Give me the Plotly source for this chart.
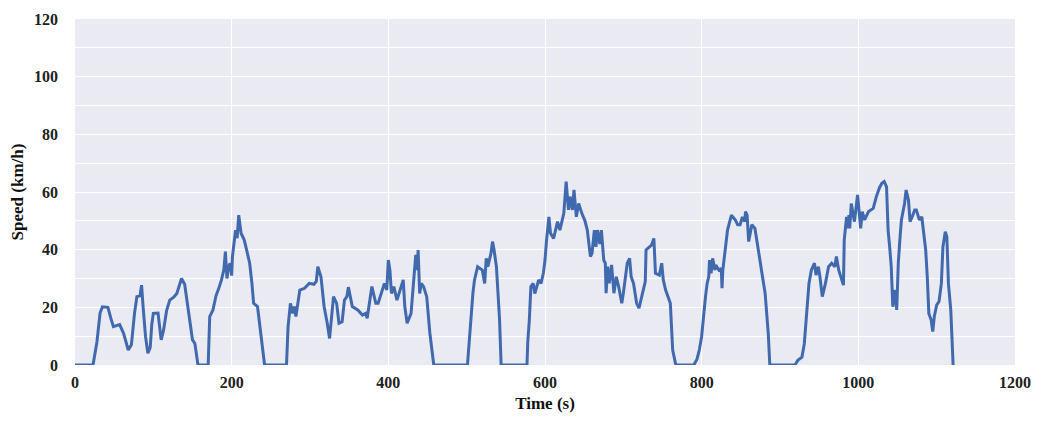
import plotly.graph_objects as go

time_s = [0, 23, 28, 32, 35, 42, 46, 49, 57, 62, 68, 72, 76, 79, 83, 85, 87, 90, 93, 96, 98, 100, 106, 110, 113, 117, 121, 126, 130, 136, 140, 144, 148, 150, 153, 157,
          170, 171, 172, 176, 180, 184, 187, 190, 192, 194, 196, 198, 200, 201, 203, 205, 207, 209, 212, 216, 219, 223, 226, 228, 233, 235, 237, 240, 242,
          270, 271, 272, 275, 278, 280, 282, 287, 293, 299, 305, 308, 310, 314, 318, 322, 325, 328, 330, 334, 337, 341, 344, 347, 349, 354, 361, 367, 371, 373,
          379, 384, 387, 395, 398, 400, 402, 404, 407, 411, 414, 419, 421, 424, 429, 432, 435, 437, 438, 440, 442, 445, 449, 453, 456, 458,
          501, 503, 505, 508, 510, 514, 520, 523, 525, 527, 531, 533, 535, 538, 542, 544,
          577, 578, 580, 582, 585, 587, 592, 595, 598, 600, 602, 605, 607, 611, 616, 619, 624, 627, 630, 632, 635, 637, 640, 643, 647, 651, 654, 658, 660,
          663, 665, 667, 670, 672, 675, 677, 678, 680, 682, 685, 688, 691, 694, 698, 700, 705, 708, 710, 713, 717, 720, 725, 728, 729, 733, 736, 739, 741,
          746, 749, 751, 754, 760, 763, 767,
          790, 794, 797, 800, 802, 805, 807, 809, 810, 812, 814, 817, 818, 822, 825, 826, 827, 831, 833, 838, 843, 846, 849, 852, 855, 856, 858, 860, 864,
          868, 872, 876, 879, 881, 885, 887,
          919, 923, 928, 931, 934, 937, 940, 944, 946, 949, 951, 954, 958, 962, 966, 970, 972, 975, 981, 982, 985, 986, 988, 989, 991, 995, 999, 1003, 1005,
          1008, 1013, 1019, 1023, 1027, 1030, 1033, 1036, 1038, 1040, 1042, 1044, 1047, 1049, 1051, 1053, 1055, 1059, 1061, 1064, 1066, 1068, 1072, 1074,
          1078, 1081, 1083, 1086, 1088, 1090, 1093, 1095, 1097, 1100, 1103, 1106, 1108, 1111, 1113, 1115, 1118, 1121]

speed_kmh = [0, 0, 8, 18, 20.2, 20, 16, 13.3, 14, 11, 5.2, 7, 18, 23.7, 24, 27.7, 20, 10, 4.1, 6, 14, 17.9, 18, 8.7, 12, 19, 22.5, 23.5, 24.8, 30, 28, 20, 12, 8.7, 7.5, 0,
             0, 10, 16.8, 19, 24, 27, 29.5, 33, 39.3, 30, 34, 35.3, 31, 37.6, 42, 46.8, 44, 52, 45.7, 43.4, 40, 35.3, 28, 21.4, 20.3, 16, 12.3, 5, 0,
             0, 8, 13.3, 21.4, 17.9, 20.3, 16.8, 26, 26.6, 28.3, 28, 29, 34.1, 30.6, 20.3, 14.5, 9.2, 17.9, 23.7, 21.4, 14.5, 15, 22.5, 23.7, 27, 20.3, 19.1, 17.3, 17.9, 16.2,
             27.2, 21.4, 21.4, 28.3, 26, 36.4, 32.9, 24.8, 27.2, 22.5, 25.4, 29.5, 20.3, 14.5, 17.9, 29.5, 38.2, 32.9, 39.9, 24.8, 28.3, 27.2, 23.7, 11.1, 4, 0,
             0, 8, 16.8, 25, 29.5, 34.1, 32.9, 28.3, 37, 34.1, 38.7, 42.8, 39.9, 34.1, 15.6, 0,
             0, 8, 15.6, 27.2, 28.3, 24.8, 29.5, 28.3, 32, 36.4, 43.4, 51.4, 45.7, 43.9, 49.7, 46.8, 52.6, 63.6, 53.8, 58.4, 53.8, 60.7, 51.4, 56, 52.6, 50, 46.8, 37.6, 38.7,
             46.8, 41, 46.8, 42, 46.8, 36.4, 35.3, 24.9, 34.1, 28.3, 34.7, 24.9, 30.6, 27.2, 21.4, 24.9, 35.3, 37, 30.6, 28.3, 21.4, 19.7, 26, 28.9, 39.9, 41, 41.6, 43.9, 31.8,
             31.2, 35.3, 29.5, 26, 21.4, 5.2, 0,
             0, 2, 5.2, 10, 16.8, 24, 28.3, 30.6, 36.4, 31.8, 37, 32.9, 34.7, 32.9, 33.5, 26.6, 32.9, 41, 46.8, 52, 50.3, 48.6, 48.6, 51.4, 49.7, 53.2, 52, 42.8, 48.6,
             47.4, 39.9, 33, 28.3, 24.9, 11, 0,
             0, 1.7, 2.7, 7.3, 17.9, 28.3, 32.9, 35.3, 31.2, 34.1, 30.6, 23.7, 28.3, 34.1, 35.3, 34.1, 37.6, 32.9, 27.7, 43.4, 51.4, 47.4, 52, 47.4, 56, 49.7, 59, 47.4, 53.2,
             50.3, 53.2, 54.3, 58.4, 61.5, 63, 63.6, 61.8, 46.8, 41, 34.1, 20.2, 26, 19.1, 35.3, 43.4, 50.3, 56, 60.7, 57.2, 49.7, 50.9, 53.8, 53.8,
             50.3, 51.4, 46.8, 39.9, 30.6, 17.9, 15.6, 11.6, 16.8, 20.8, 22, 28.3, 41, 46.2, 44.5, 28.3, 19.1, 0]

x_ticks = [0, 200, 400, 600, 800, 1000, 1200]
y_grid = [0, 10, 20, 30, 40, 50, 60, 70, 80, 90, 100, 110, 120]
y_labels = ["0", "", "20", "", "40", "", "60", "", "80", "", "100", "", "120"]

font_family = "Liberation Serif"

fig = go.Figure()
fig.add_trace(go.Scatter(
    x=time_s, y=speed_kmh, mode="lines",
    line=dict(color="#4169AE", width=3),
    showlegend=False, hoverinfo="skip",
))

# page body has an 8px margin, so figure is shrunk and offsets reduced accordingly
fig.update_layout(
    width=1030, height=405,
    margin=dict(l=67, r=23, t=11, b=48),
    paper_bgcolor="white",
    plot_bgcolor="#EAEAF2",
    font=dict(family=font_family, color="#222222"),
)
fig.update_xaxes(
    range=[0, 1200], tickvals=x_ticks, ticktext=[str(v) for v in x_ticks],
    showgrid=True, gridcolor="white", gridwidth=1,
    zeroline=False, showline=False, ticks="", automargin=False,
    tickfont=dict(family=font_family, size=16, weight="bold", color="#222222"),
    ticklabelstandoff=6,
    title=dict(text="Time (s)", font=dict(family=font_family, size=17, weight="bold", color="#111111"), standoff=14),
)
fig.update_yaxes(
    range=[0, 120], tickvals=y_grid, ticktext=y_labels,
    showgrid=True, gridcolor="white", gridwidth=1.3,
    zeroline=False, showline=False, ticks="", automargin=False,
    tickfont=dict(family=font_family, size=16, weight="bold", color="#222222"),
    ticklabelstandoff=16,
    title=dict(text="Speed (km/h)", font=dict(family=font_family, size=17, weight="bold", color="#111111"), standoff=10),
)

fig.write_html("out.html")
